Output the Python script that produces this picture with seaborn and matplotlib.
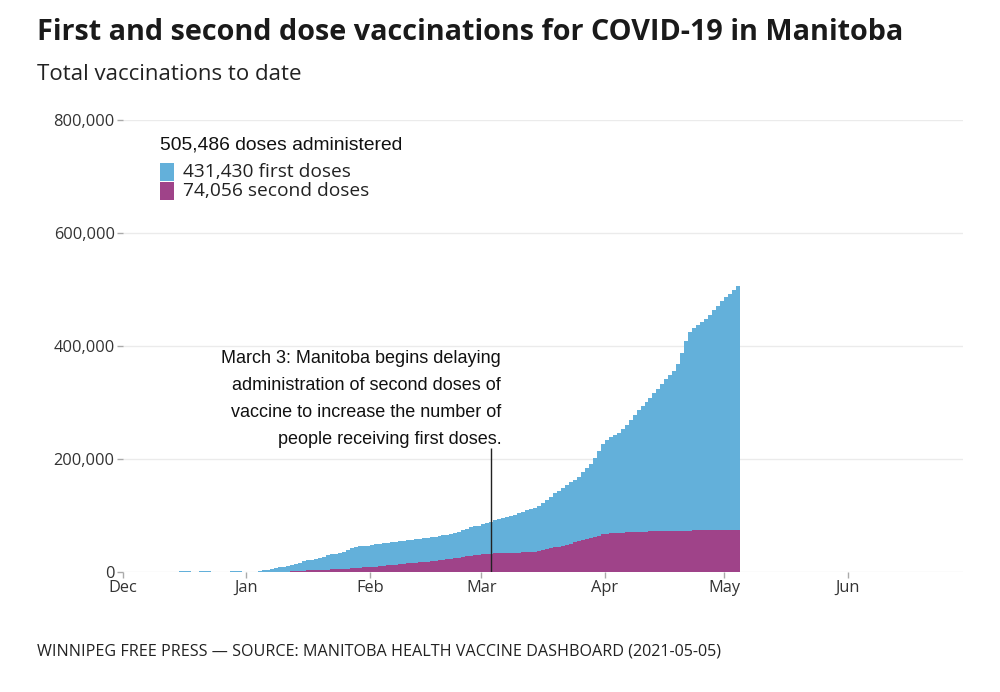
import numpy as np
import pandas as pd
import matplotlib
matplotlib.use("Agg")
import matplotlib.pyplot as plt
import matplotlib.dates as mdates
from matplotlib.patches import Rectangle
import seaborn as sns

# ---------------- data (cumulative doses, daily, None = no report) ----------
start_date = "2020-12-15"
end_date = "2021-05-04"

total_doses = [
    # Dec 15 - Dec 31
    900, 1100, 1300, None, None, 1400, 1600, 1800, None, None, None, None, None,
    2000, 2200, 2400, None,
    # Jan 1 - Jan 31
    None, None, 500, 1800, 3200, 4300, 5400, 6800, 8000, 9200, 10800, 12600,
    14500, 16800, 18900, 20500, 21600, 23400, 25300, 27200, 29300, 31400, 32600,
    33500, 36200, 39800, 42100, 43900, 45200, 46100, 46700,
    # Feb 1 - Feb 28
    47800, 48900, 49800, 50700, 51800, 52400, 52900, 54000, 55000, 56000, 57100,
    58200, 58800, 59300, 60300, 61400, 62400, 63600, 64900, 65700, 66400, 68500,
    71000, 73600, 76300, 79000, 80600, 81900,
    # Mar 1 - Mar 31
    84200, 86800, 89300, 91600, 94000, 95400, 96900, 99300, 101700, 104100,
    106600, 109300, 111000, 112500, 116500, 121400, 127000, 133500, 140100,
    144100, 147800, 153200, 158600, 163500, 168300, 176800, 184000, 191200,
    201800, 214600, 226300,
    # Apr 1 - Apr 30
    233500, 238400, 242300, 246200, 252400, 260400, 268900, 277800, 286900,
    293600, 300200, 307900, 316400, 324500, 332700, 341800, 348900, 355900,
    368100, 387200, 408700, 423900, 431000, 437000, 442000, 447000, 455000,
    463000, 471000, 479000,
    # May 1 - May 4
    486000, 492000, 499000, 505486,
]

second_doses = [
    # Dec 15 - Dec 31
    0, 0, 0, None, None, 0, 0, 0, None, None, None, None, None, 0, 0, 0, None,
    # Jan 1 - Jan 31
    None, None, 0, 0, 0, 100, 200, 300, 400, 500, 800, 1200, 1600, 2000, 2400,
    2800, 3000, 3300, 3600, 3900, 4200, 4500, 4700, 4900, 5400, 6000, 6600, 7200,
    7800, 8200, 8500,
    # Feb 1 - Feb 28
    9000, 9600, 10300, 11000, 11800, 12300, 12700, 13500, 14300, 15100, 15900,
    16700, 17200, 17600, 18400, 19200, 20000, 20900, 21800, 22400, 22900, 24000,
    25200, 26400, 27600, 28800, 29500, 30100,
    # Mar 1 - Mar 31
    31000, 31900, 32600, 33000, 33300, 33500, 33600, 33900, 34200, 34500, 34800,
    35100, 35300, 35500, 36800, 38300, 40000, 41800, 43600, 45000, 46200, 48200,
    50300, 52400, 54500, 56800, 58500, 60000, 62300, 64600, 66500,
    # Apr 1 - Apr 30
    67800, 68600, 69100, 69500, 69900, 70200, 70500, 70800, 71100, 71300, 71500,
    71700, 71900, 72100, 72300, 72500, 72600, 72700, 72900, 73100, 73300, 73400,
    73500, 73600, 73650, 73700, 73750, 73800, 73850, 73900,
    # May 1 - May 4
    73950, 73990, 74020, 74056,
]

series_names = ["First doses", "Second doses"]
series_colors = ["#63b0da", "#9f4389"]

legend_title = "505,486 doses administered"
legend_labels = ["431,430 first doses", "74,056 second doses"]

annotation_date = "2021-03-03"
annotation_text = ("March 3: Manitoba begins delaying\n"
                   "administration of second doses of\n"
                   "vaccine to increase the number of\n"
                   "people receiving first doses.")

y_ticks = [0, 200000, 400000, 600000, 800000]

# ---------------- build frame ----------------
dates = pd.date_range(start_date, end_date, freq="D")
df = pd.DataFrame({"date": dates,
                   "total": pd.to_numeric(pd.Series(total_doses), errors="coerce"),
                   "second": pd.to_numeric(pd.Series(second_doses), errors="coerce")})
df = df.fillna(0.0)
# extra edge so the last day keeps its one-day width in the step fill
last = df.iloc[[-1]].copy()
last["date"] = last["date"] + pd.Timedelta(days=1)
df = pd.concat([df, last], ignore_index=True)
df["x"] = mdates.date2num(df["date"])

# ---------------- figure ----------------
sns.set_theme(style="white")
plt.rcParams["font.family"] = ["Open Sans", "DejaVu Sans"]

fig = plt.figure(figsize=(10, 6.92), dpi=100)
ax = fig.add_axes([0.123, 1 - 572 / 692, 0.963 - 0.123, (572 - 120) / 692])

palette = dict(zip(series_names, series_colors))
ax.fill_between(df["x"], 0, df["second"], step="post", color=palette["Second doses"],
                linewidth=0, antialiased=False, zorder=2)
ax.fill_between(df["x"], df["second"], df["total"], step="post",
                color=palette["First doses"], linewidth=0, antialiased=False, zorder=2)

ax.set_xlim(mdates.date2num(pd.Timestamp("2020-12-01")), mdates.date2num(pd.Timestamp("2021-06-30")))
ax.set_ylim(0, 800000)
ax.set_yticks(y_ticks)
ax.yaxis.set_major_formatter(matplotlib.ticker.FuncFormatter(lambda v, p: f"{v:,.0f}"))
ax.xaxis.set_major_locator(mdates.MonthLocator())
ax.xaxis.set_major_formatter(mdates.DateFormatter("%b"))
ax.set_xlabel("")
ax.set_ylabel("")

ax.yaxis.grid(True, color="#ebebeb", linewidth=1)
ax.xaxis.grid(False)
ax.set_axisbelow(True)
sns.despine(ax=ax, left=True, bottom=True, top=True, right=True)
ax.tick_params(axis="y", left=True, length=4, width=1, color="#aaaaaa", pad=2,
               labelsize=11.8, labelcolor="#333333")
ax.tick_params(axis="x", bottom=True, length=4, width=1, color="#aaaaaa", pad=2,
               labelsize=11.8, labelcolor="#333333")

# annotation
ann_x = mdates.date2num(pd.Timestamp(annotation_date)) + 0.5
ax.vlines(ann_x, 0, 220000, color="#222222", linewidth=1, zorder=5)
ax.text(mdates.date2num(pd.Timestamp("2021-03-06")), 392500, annotation_text,
        ha="right", va="top", fontsize=13, family=["Liberation Sans", "DejaVu Sans"],
        color="#111111", linespacing=1.76, multialignment="right")

# legend block
fig.text(0.160, 1 - 145 / 692, legend_title, ha="left", va="center", fontsize=13.9,
         family=["Liberation Sans", "DejaVu Sans"], color="#111111")
for i, (lab, col) in enumerate(zip(legend_labels, series_colors)):
    yc = 172 + 18.5 * i
    fig.patches.append(Rectangle((0.160, 1 - (yc + 9) / 692), 0.0135, 17.5 / 692,
                                 transform=fig.transFigure, facecolor=col, edgecolor="none"))
    fig.text(0.183, 1 - yc / 692, lab, ha="left", va="center", fontsize=13.8,
             color="#222222")

# titles
fig.text(0.037, 1 - 33 / 692, "First and second dose vaccinations for COVID-19 in Manitoba",
         ha="left", va="center", fontsize=20.7, fontweight="bold", color="#1a1a1a")
fig.text(0.037, 1 - 74 / 692, "Total vaccinations to date", ha="left", va="center",
         fontsize=16, color="#222222")
fig.text(0.037, 1 - 652 / 692,
         "WINNIPEG FREE PRESS \u2014 SOURCE: MANITOBA HEALTH VACCINE DASHBOARD (2021-05-05)",
         ha="left", va="center", fontsize=11.6, color="#222222")

fig.savefig("out.png", dpi=100)
